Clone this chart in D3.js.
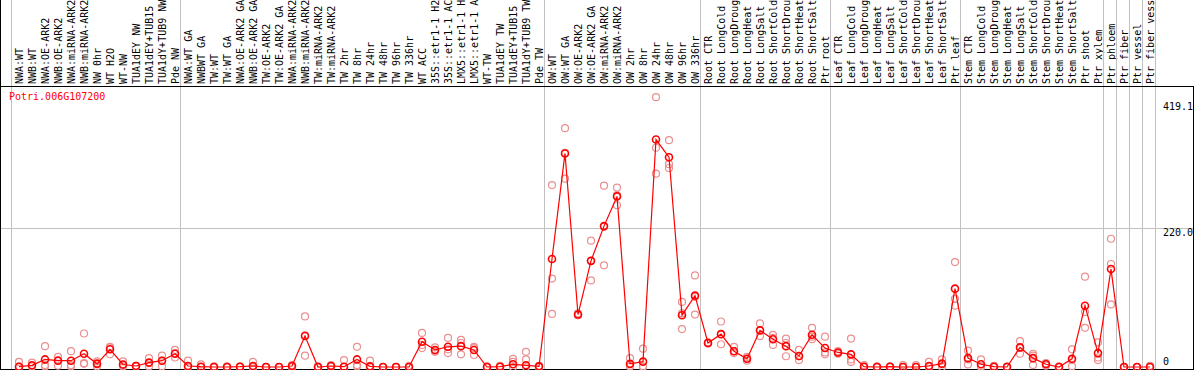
<!DOCTYPE html>
<meta charset="utf-8">
<style>
body { margin: 0; background: #fff; }
text { font-family: "DejaVu Sans Mono", monospace; font-size: 10px; }
</style>
<body>
<script src="https://d3js.org/d3.v7.min.js"></script>
<script>
var title = "Potri.006G107200";

var labels = [
  "NWA:WT","NWB:WT","NWA:OE-ARK2","NWB:OE-ARK2","NWA:miRNA-ARK2","NWB:miRNA-ARK2","NW 0hr","WT H2O","WT-NW","TUA1dEY NW","TUA1dEY+TUB15 NW","TUA1dY+TUB9 NW","Pde NW",
  "NWA:WT GA","NWBWT GA","TW:WT","TW:WT GA","NWA:OE-ARK2 GA","NWB:OE-ARK2 GA","TW:OE-ARK2","TW:OE-ARK2 GA","NWA:miRNA-ARK2 GA","NWB:miRNA-ARK2 GA","TW:miRNA-ARK2","TW:miRNA-ARK2 GA",
  "TW 2hr","TW 8hr","TW 24hr","TW 48hr","TW 96hr","TW 336hr","WT ACC","35S::etr1-1 H2O","35S::etr1-1 ACC","LMX5::etr1-1 H2O","LMX5::etr1-1 ACC","WT-TW","TUA1dEY TW","TUA1dEY+TUB15 TW","TUA1dY+TUB9 TW","Pde TW",
  "OW:WT","OW:WT GA","OW:OE-ARK2","OW:OE-ARK2 GA","OW:miRNA-ARK2","OW:miRNA-ARK2 GA","OW 2hr","OW 8hr","OW 24hr","OW 48hr","OW 96hr","OW 336hr",
  "Root CTR","Root LongCold","Root LongDrought","Root LongHeat","Root LongSalt","Root ShortCold","Root ShortDrought","Root ShortHeat","Root ShortSalt","Ptr root",
  "Leaf CTR","Leaf LongCold","Leaf LongDrought","Leaf LongHeat","Leaf LongSalt","Leaf ShortCold","Leaf ShortDrought","Leaf ShortHeat","Leaf ShortSalt","Ptr leaf",
  "Stem CTR","Stem LongCold","Stem LongDrought","Stem LongHeat","Stem LongSalt","Stem ShortCold","Stem ShortDrought","Stem ShortHeat","Stem ShortSalt","Ptr shoot","Ptr xylem",
  "Ptr phloem","Ptr fiber","Ptr vessel","Ptr fiber vessel"
];

var groupSizes = [13, 28, 12, 10, 10, 11, 1, 1, 1, 1];

var means = [
  0.5,2.7,12,10,10,21,5,28,4,1.6,7,10,21,
  1.6,0.5,0,0,0.5,1.6,0,0,1.5,49,0,1.6,0.5,12,1,0,0,0,40,27,32,33,27,0,0.5,4.3,2.7,1,
  171,338,83,168,223,270,5,8.5,360,332,82,113,
  38,52,25,13,58,44,33,17.5,51,30,
  23,20,0.5,0,0.5,0,0,1.6,5.3,124,
  14,4.3,0.5,0,31,14,4.3,0,13,97,22,
  155,0,0,0
];

var rep1 = [
  8,7,33,16,25,53,9,32,9,2,14,18,27,
  10,4,1,1,1,8,0,0,3,80,1,3,11,32,10,0,0,2,54,31,46,43,32,1,2,13,24,2,
  288,378,85,200,287,284,14,29,427,359,103,145,
  39,72,32,16,69,51,45,27,62,48,
  25,45,3,1,1,3,3,8,12,166,
  26,12,2,1,41,21,6,1,28,143,39,
  203,0,0,2
];
var rep2 = [
  1,2,3,11,3,6,6,31,3,2,6,10,22,
  1,0,0,0,0,0,0,0,0,50,0,1,0,3,1,0,0,0,35,26,28,38,30,0,0,8,12,0,
  140,298,82,168,222,256,1,1,347,321,60,83,
  38,52,25,13,58,46,38,17,48,23,
  22,12,0,0,0,0,0,1,4,108,
  12,1,0,0,30,18,5,0,11,87,15,
  163,0,0,0
];
var rep3 = [
  0,1,1,2,1,5,1,20,1,1,1,1,15,
  0,0,0,0,0,0,0,0,0,18,0,1,0,1,0,0,0,0,30,24,22,20,19,0,0,0,0,0,
  84,339,82,137,161,272,1,0,306,315,85,111,
  37,36,22,10,49,35,17,11,44,20,
  21,8,0,0,0,0,0,0,0,97,
  4,0,0,0,21,3,2,0,1,62,11,
  99,0,0,0
];

var yTicks = [0, 220, 419.1];
var yTickLabels = ["0", "220.0", "419.1"];

var W = 1194, H = 370;
var svg = d3.select("body").append("svg").attr("width", W).attr("height", H);

var x = d3.scaleBand().domain(d3.range(labels.length)).range([11.5, 11.5 + 13 * labels.length]);
var cx = i => x(i) + 7.5;
var y = d3.scaleLinear().domain([0, 220]).range([367, 228]);

// header labels (the header only has room for 14 characters)
svg.append("g").selectAll("text")
  .data(labels)
  .enter().append("text")
    .attr("transform", (d, i) => `translate(${cx(i) + 4},84) rotate(-90)`)
    .attr("fill", "#000")
    .text(d => d.slice(0, 14).trimEnd());

// group separators
var bounds = [0].concat(Array.from(d3.cumsum(groupSizes)));
svg.append("g").selectAll("line")
  .data(bounds)
  .enter().append("line")
    .attr("x1", k => 11.5 + 13 * k).attr("x2", k => 11.5 + 13 * k)
    .attr("y1", 0).attr("y2", H)
    .attr("stroke", "#c0c0c0");

// gridline
svg.append("line")
  .attr("x1", 0).attr("x2", W)
  .attr("y1", Math.round(y(220)) + 0.5).attr("y2", Math.round(y(220)) + 0.5)
  .attr("stroke", "#c0c0c0");

// frame
svg.append("line").attr("x1", 0).attr("x2", W).attr("y1", 86.5).attr("y2", 86.5).attr("stroke", "#000");
svg.append("line").attr("x1", 0).attr("x2", W).attr("y1", 369.5).attr("y2", 369.5).attr("stroke", "#000");
svg.append("line").attr("x1", 0.5).attr("x2", 0.5).attr("y1", 0).attr("y2", H).attr("stroke", "#000");
svg.append("line").attr("x1", W - 0.5).attr("x2", W - 0.5).attr("y1", 86).attr("y2", H).attr("stroke", "#000");

// y tick labels
svg.append("g").selectAll("text")
  .data(yTicks)
  .enter().append("text")
    .attr("x", 1163)
    .attr("y", (d, i) => d === 0 ? y(d) - 2 : y(d) + 8)
    .attr("fill", "#000")
    .text((d, i) => yTickLabels[i]);

// title
svg.append("text").attr("x", 9).attr("y", 100).attr("fill", "red").text(title);

// replicates
var reps = [];
[rep1, rep2, rep3].forEach(r => r.forEach((v, i) => reps.push({i: i, v: v})));
svg.append("g").selectAll("circle")
  .data(reps)
  .enter().append("circle")
    .attr("cx", d => cx(d.i))
    .attr("cy", d => y(d.v))
    .attr("r", 3.5)
    .attr("fill", "none")
    .attr("stroke", "#ea9090")
    .attr("stroke-width", 1.2);

// mean line
svg.append("path")
  .datum(means)
  .attr("fill", "none")
  .attr("stroke", "red")
  .attr("stroke-width", 1.2)
  .attr("d", d3.line().x((d, i) => cx(i)).y(d => y(d)));

svg.append("g").selectAll("circle")
  .data(means)
  .enter().append("circle")
    .attr("cx", (d, i) => cx(i))
    .attr("cy", d => y(d))
    .attr("r", 3.5)
    .attr("fill", "none")
    .attr("stroke", "red")
    .attr("stroke-width", 1.6);
</script>
